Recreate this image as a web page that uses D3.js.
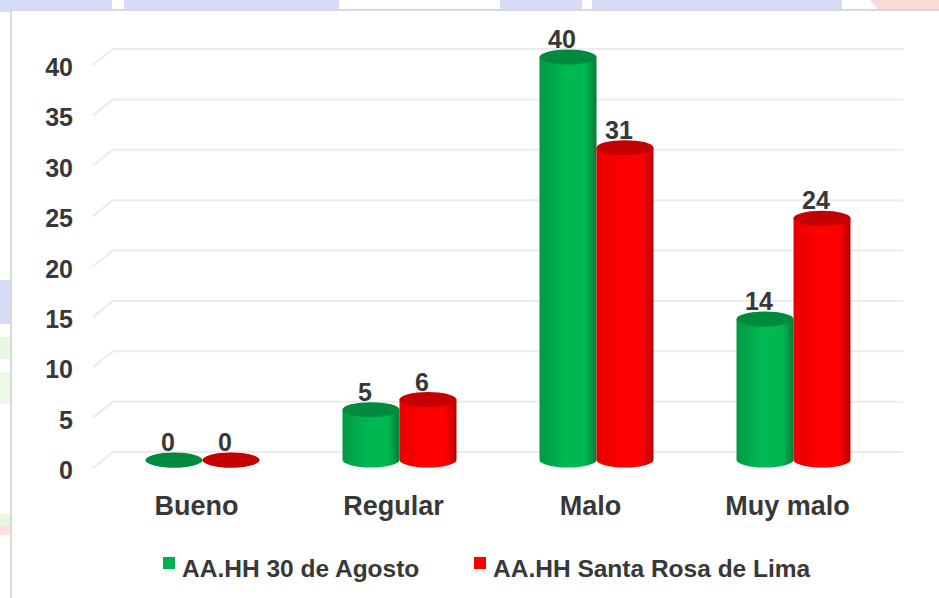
<!DOCTYPE html>
<html>
<head>
<meta charset="utf-8">
<script src="https://cdn.jsdelivr.net/npm/d3@7"></script>
<style>
  html, body { margin: 0; padding: 0; background: #fff; }
  svg { display: block; font-family: "Liberation Sans", Arial, sans-serif; }
</style>
</head>
<body>
<svg id="chart" width="939" height="598"></svg>
<script>
/* ── Data ─────────────────────────────────────────────────────────────── */
const categories = ['Bueno', 'Regular', 'Malo', 'Muy malo'];
const seriesNames = ['AA.HH 30 de Agosto', 'AA.HH Santa Rosa de Lima'];
const agosto    = [0, 5, 40, 14];
const santaRosa = [0, 6, 31, 24];
const yTicks    = [0, 5, 10, 15, 20, 25, 30, 35, 40];

/* ── Colours ──────────────────────────────────────────────────────────── */
const GREEN = { dark: '#007d37', mid: '#00b852', edge: '#009a45', top: '#008a3d' };
const RED   = { dark: '#b80000', mid: '#ff0000', edge: '#e80000', top: '#c40000' };
const TEXT  = '#383838';

const svg = d3.select('#chart');

/* ── Watermark background behind the panel ─────────────────────────────── */
const bg = svg.append('g');
[[0, 112, '#d6dcf6'], [124, 215, '#d6dcf6'], [500, 82, '#d6dcf6'], [592, 250, '#d6dcf6']]
  .forEach(([x, w, c]) => bg.append('rect').attr('x', x).attr('y', 0).attr('width', w).attr('height', 12).attr('fill', c));
bg.append('path').attr('d', 'M870,0 L939,0 L939,12 L880,12 Z').attr('fill', '#fddada');
bg.append('rect').attr('x', 0).attr('y', 280).attr('width', 11).attr('height', 44).attr('fill', '#d6dcf6');
bg.append('rect').attr('x', 0).attr('y', 337).attr('width', 11).attr('height', 22).attr('fill', '#e8f6e4');
bg.append('rect').attr('x', 0).attr('y', 372).attr('width', 11).attr('height', 32).attr('fill', '#edf8e9');
bg.append('rect').attr('x', 0).attr('y', 514).attr('width', 11).attr('height', 12).attr('fill', '#e8f6e4');
bg.append('rect').attr('x', 0).attr('y', 526).attr('width', 11).attr('height', 9).attr('fill', '#fde0e0');

// chart panel
svg.append('rect')
  .attr('x', 11).attr('y', 10).attr('width', 940).attr('height', 600)
  .attr('fill', '#fff').attr('stroke', '#d9d9d9').attr('stroke-width', 2);

/* ── Scales ───────────────────────────────────────────────────────────── */
const x = d3.scaleBand().domain(categories).range([104, 892]);
const x1 = d3.scaleBand().domain(seriesNames).range([0, 114]);
const y = d3.scaleLinear().domain([0, 40]).range([460, 57]);

const DX = 20;   // fake 3D depth of floor/wall

/* ── Gridlines on back wall with floor diagonal ───────────────────────── */
const grid = svg.append('g');
grid.selectAll('path')
  .data(yTicks)
  .join('path')
    .attr('d', t => `M${113 - DX},${y(t) + 8} L113,${y(t) - 8} L903,${y(t) - 8}`)
    .attr('fill', 'none')
    .attr('stroke', '#ebebeb')
    .attr('stroke-width', 2);

/* ── Y tick labels ────────────────────────────────────────────────────── */
svg.append('g').selectAll('text')
  .data(yTicks)
  .join('text')
    .attr('x', 73)
    .attr('y', t => y(t) + 10)
    .attr('dy', '0.36em')
    .attr('text-anchor', 'end')
    .style('font-size', '25px')
    .style('font-weight', 'bold')
    .style('fill', TEXT)
    .text(t => t);

/* ── Cylinders ────────────────────────────────────────────────────────── */
const defs = svg.append('defs');
function addGrad(id, c) {
  const g = defs.append('linearGradient').attr('id', id).attr('x1', 0).attr('x2', 1).attr('y1', 0).attr('y2', 0);
  g.append('stop').attr('offset', '0%').attr('stop-color', c.edge);
  g.append('stop').attr('offset', '45%').attr('stop-color', c.mid);
  g.append('stop').attr('offset', '80%').attr('stop-color', c.mid);
  g.append('stop').attr('offset', '100%').attr('stop-color', c.dark);
}
addGrad('g-green', GREEN);
addGrad('g-red', RED);

const bars = [];
categories.forEach((cat, i) => {
  bars.push({ cat, series: seriesNames[0], value: agosto[i], grad: 'url(#g-green)', top: GREEN.top });
  bars.push({ cat, series: seriesNames[1], value: santaRosa[i], grad: 'url(#g-red)', top: RED.top });
});

const RY = 7.5;
const bw = x1.bandwidth();
const barG = svg.append('g');
const cx0 = b => x(b.cat) + x.bandwidth() / 2 - 57 + x1(b.series);

barG.selectAll('path.body')
  .data(bars)
  .join('path')
    .attr('class', 'body')
    .attr('d', b => {
      const l = cx0(b), r = l + bw, t = y(b.value), base = y(0);
      return `M${l},${t} L${l},${base} A${bw / 2},${RY} 0 0 0 ${r},${base} L${r},${t} Z`;
    })
    .attr('fill', b => b.grad);

barG.selectAll('ellipse.top')
  .data(bars)
  .join('ellipse')
    .attr('class', 'top')
    .attr('cx', b => cx0(b) + bw / 2)
    .attr('cy', b => y(b.value))
    .attr('rx', bw / 2)
    .attr('ry', RY)
    .attr('fill', b => b.top);

/* ── Value labels ─────────────────────────────────────────────────────── */
svg.append('g').selectAll('text')
  .data(bars)
  .join('text')
    .attr('x', b => cx0(b) + bw / 2 - 6)
    .attr('y', b => y(b.value) - 9)
    .attr('text-anchor', 'middle')
    .style('font-size', '25px')
    .style('font-weight', 'bold')
    .style('fill', TEXT)
    .text(b => b.value);

/* ── Category labels ──────────────────────────────────────────────────── */
svg.append('g').selectAll('text')
  .data(categories)
  .join('text')
    .attr('x', c => x(c) + x.bandwidth() / 2 - 6)
    .attr('y', 515)
    .attr('text-anchor', 'middle')
    .style('font-size', '27px')
    .style('font-weight', 'bold')
    .style('fill', TEXT)
    .text(c => c);

/* ── Legend ───────────────────────────────────────────────────────────── */
const legendX = [163, 474];
const legendColors = ['#00b050', '#ff0000'];
const legend = svg.append('g').selectAll('g')
  .data(seriesNames)
  .join('g')
    .attr('transform', (d, i) => `translate(${legendX[i]},0)`);
legend.append('rect')
  .attr('x', 0).attr('y', 557).attr('width', 12).attr('height', 12)
  .attr('fill', (d, i) => legendColors[i]);
legend.append('text')
  .attr('x', 19).attr('y', 577)
  .style('font-size', '24.5px')
  .style('font-weight', 'bold')
  .style('fill', TEXT)
  .text(d => d);
</script>
</body>
</html>
